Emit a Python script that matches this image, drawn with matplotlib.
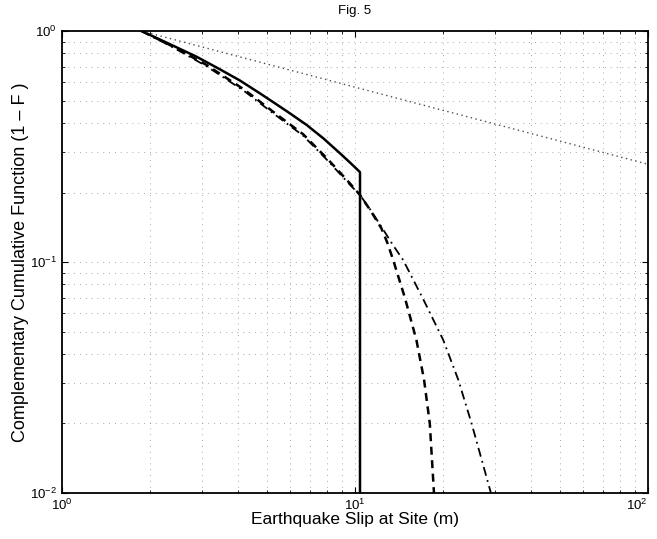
import matplotlib
matplotlib.use("Agg")
import matplotlib.pyplot as plt

plt.rcParams['font.family'] = ['Liberation Sans', 'DejaVu Sans']
plt.rcParams['mathtext.fontset'] = 'custom'
plt.rcParams['mathtext.rm'] = 'Liberation Sans'
plt.rcParams['mathtext.it'] = 'Liberation Sans:italic'
plt.rcParams['mathtext.bf'] = 'Liberation Sans:bold'

# values (slip in m, 1 - F)
solid_x = [1.87, 2.3, 2.88, 3.4, 4.05, 4.74, 5.26, 6.0, 6.84, 7.8, 8.89, 9.6, 10.4, 10.4]
solid_y = [1.0, 0.885, 0.774, 0.691, 0.6105, 0.537, 0.492, 0.440, 0.392, 0.343, 0.2955, 0.27, 0.245, 0.01]

dashed_x = [1.87, 2.40, 3.12, 4.21, 5.26, 6.66, 8.11, 9.61, 10.4, 11.3, 12.3, 12.9, 13.5,
            14.8, 16.2, 17.2, 18.0, 18.6]
dashed_y = [1.0, 0.855, 0.712, 0.555, 0.447, 0.357, 0.277, 0.219, 0.195, 0.167, 0.140, 0.121, 0.102,
            0.070, 0.046, 0.031, 0.020, 0.010]

dashdot_x = [1.87, 2.40, 3.12, 4.21, 5.26, 6.66, 8.11, 9.61, 10.4, 11.3, 12.4, 13.5, 14.6,
             17.0, 20.0, 22.5, 25.0, 29.1]
dashdot_y = [1.0, 0.848, 0.703, 0.547, 0.440, 0.352, 0.273, 0.216, 0.195, 0.168, 0.140, 0.118, 0.102,
             0.070, 0.046, 0.031, 0.020, 0.010]

dotted_x = [1.87, 100]
dotted_y = [1.0, 0.265]

xticks = [1, 10, 100]
xticklabels = ['$10^{0}$', '$10^{1}$', '$10^{2}$']
yticks = [0.01, 0.1, 1]
yticklabels = ['$10^{-2}$', '$10^{-1}$', '$10^{0}$']

fig = plt.figure(figsize=(6.57, 5.39), dpi=100)
ax = fig.add_axes([0.0944, 0.0853, 0.8919, 0.8571])

ax.plot(solid_x, solid_y, '-', color='k', lw=1.8)
ax.plot(dashed_x, dashed_y, color='k', lw=1.8, linestyle=(0, (3.2, 2.2)))
ax.plot(dashdot_x, dashdot_y, color='k', lw=1.3, linestyle=(0, (5, 2.5, 1, 2.5)))
ax.plot(dotted_x, dotted_y, color='0.3', lw=1.0, linestyle=(0, (1, 2.5)))

ax.set_xscale('log')
ax.set_yscale('log')
ax.set_xlim(1, 100)
ax.set_ylim(0.01, 1)
ax.set_xticks(xticks)
ax.set_xticklabels(xticklabels)
ax.set_yticks(yticks)
ax.set_yticklabels(yticklabels)

ax.grid(True, which='both', color='0.55', lw=0.6, linestyle=(0, (1, 6)))
ax.tick_params(which='both', direction='in', top=True, right=True, labelsize=9.5)
ax.tick_params(which='major', length=4, width=0.8)
ax.tick_params(which='minor', length=2, width=0.6)
for s in ax.spines.values():
    s.set_linewidth(1.3)

ax.xaxis.get_major_ticks()[-1].label1.set_horizontalalignment('right')

ax.set_xlabel("Earthquake Slip at Site (m)", fontsize=12.5, labelpad=-1)
ax.set_ylabel("Complementary Cumulative Function (1 \u2013 F )", fontsize=13, labelpad=1)
ax.set_title("Fig. 5", fontsize=9.5, pad=12)

fig.savefig("out.png", dpi=100)
